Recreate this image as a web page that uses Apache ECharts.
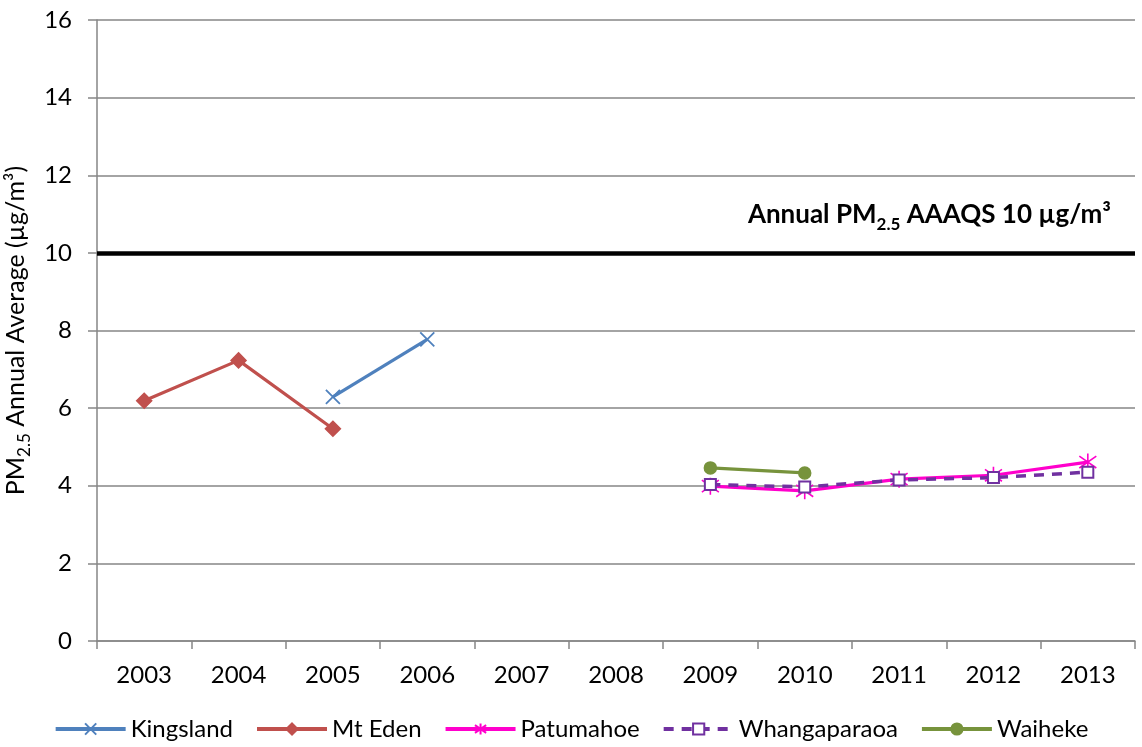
<!DOCTYPE html>
<html><head><meta charset="utf-8">
<script src="https://cdn.jsdelivr.net/npm/echarts@6/dist/echarts.min.js"></script>
<style>html,body{margin:0;padding:0;background:#fff}#c{width:1142px;height:747px}</style>
</head><body><div id="c"></div>
<script>
const years = ['2003','2004','2005','2006','2007','2008','2009','2010','2011','2012','2013'];
const kingsland    = [null, null, 6.29, 7.77, null, null, null, null, null, null, null];
const mtEden       = [6.19, 7.23, 5.47, null, null, null, null, null, null, null, null];
const patumahoe    = [null, null, null, null, null, null, 3.99, 3.87, 4.17, 4.27, 4.61];
const whangaparaoa = [null, null, null, null, null, null, 4.03, 3.97, 4.15, 4.21, 4.35];
const waiheke      = [null, null, null, null, null, null, 4.46, 4.33, null, null, null];
const standard = 10;
const yTicks = {min: 0, max: 16, interval: 2};

const FONT = 'Lato';
const chart = echarts.init(document.getElementById('c'));
const subRich = {
  n: {fontSize: 26, fontWeight: 'bold', fontFamily: FONT, color: '#000', lineHeight: 36, verticalAlign: 'middle'},
  s: {fontSize: 17, fontWeight: 'bold', fontFamily: FONT, color: '#000', lineHeight: 18, verticalAlign: 'bottom'}
};
const axRich = {
  n: {fontSize: 25, fontFamily: FONT, color: '#000', lineHeight: 34, verticalAlign: 'middle'},
  s: {fontSize: 17, fontFamily: FONT, color: '#000', lineHeight: 18, verticalAlign: 'bottom'}
};
function mk(name, data, color, symbol, size, extra) {
  return Object.assign({
    name, type: 'line', data, connectNulls: false,
    symbol, symbolSize: size,
    lineStyle: {color, width: 3.2},
    itemStyle: {color, borderColor: color, borderWidth: 1.5},
    emphasis: {disabled: true}
  }, extra || {});
}
chart.setOption({
  animation: false,
  title: {
    text: '{n|Annual PM}{s|2.5}{n| AAAQS 10 µg/m³}',
    right: 26, top: 192,
    textStyle: {rich: subRich}
  },
  grid: {left: 97, right: 7, top: 20, bottom: 106, containLabel: false, outerBoundsMode: 'none'},
  legend: {
    bottom: 1, left: 'center',
    itemWidth: 70, itemHeight: 14, itemGap: 22,
    lineStyle: {width: 4},
    textStyle: {fontSize: 24, fontFamily: FONT, color: '#000'},
    data: ['Kingsland','Mt Eden','Patumahoe','Whangaparaoa','Waiheke']
  },
  xAxis: {
    type: 'category', data: years, boundaryGap: true,
    axisLine: {lineStyle: {color: '#868686', width: 1.5}},
    axisTick: {show: true, length: 8, lineStyle: {color: '#868686', width: 1.5}},
    axisLabel: {fontSize: 24, fontFamily: FONT, color: '#000', margin: 22}
  },
  yAxis: {
    type: 'value', min: yTicks.min, max: yTicks.max, interval: yTicks.interval,
    name: '{n|PM}{s|2.5}{n| Annual Average (µg/m³)}',
    nameLocation: 'middle', nameRotate: 90, nameGap: 64,
    nameTextStyle: {rich: axRich},
    axisLine: {show: true, lineStyle: {color: '#868686', width: 1.5}},
    axisTick: {show: true, length: 9, lineStyle: {color: '#868686', width: 1.5}},
    splitLine: {lineStyle: {color: '#868686', width: 1.5}},
    axisLabel: {fontSize: 24, fontFamily: FONT, color: '#000', margin: 25}
  },
  series: [
    mk('Kingsland', kingsland, '#4F81BD', 'path://M0,0L10,10M10,0L0,10', 14, {
      itemStyle: {color: 'rgba(0,0,0,0)', borderColor: '#4F81BD', borderWidth: 1.8},
      markLine: {
        silent: true, symbol: 'none',
        label: {show: false},
        lineStyle: {color: '#000', width: 4.5, type: 'solid'},
        data: [{yAxis: standard}]
      }
    }),
    mk('Mt Eden', mtEden, '#C0504D', 'diamond', 15),
    mk('Patumahoe', patumahoe, '#FF00CC', 'path://M5,0L5,10M0,1.5L10,8.5M10,1.5L0,8.5', 17, {
      itemStyle: {color: 'rgba(0,0,0,0)', borderColor: '#FF00CC', borderWidth: 1.6}
    }),
    mk('Whangaparaoa', whangaparaoa, '#7030A0', 'emptyRect', 11, {
      lineStyle: {color: '#7030A0', width: 3.5, type: [10, 8]},
      itemStyle: {color: '#7030A0', borderColor: '#7030A0', borderWidth: 1.5}
    }),
    mk('Waiheke', waiheke, '#77933C', 'circle', 12)
  ]
});
</script>
</body></html>
